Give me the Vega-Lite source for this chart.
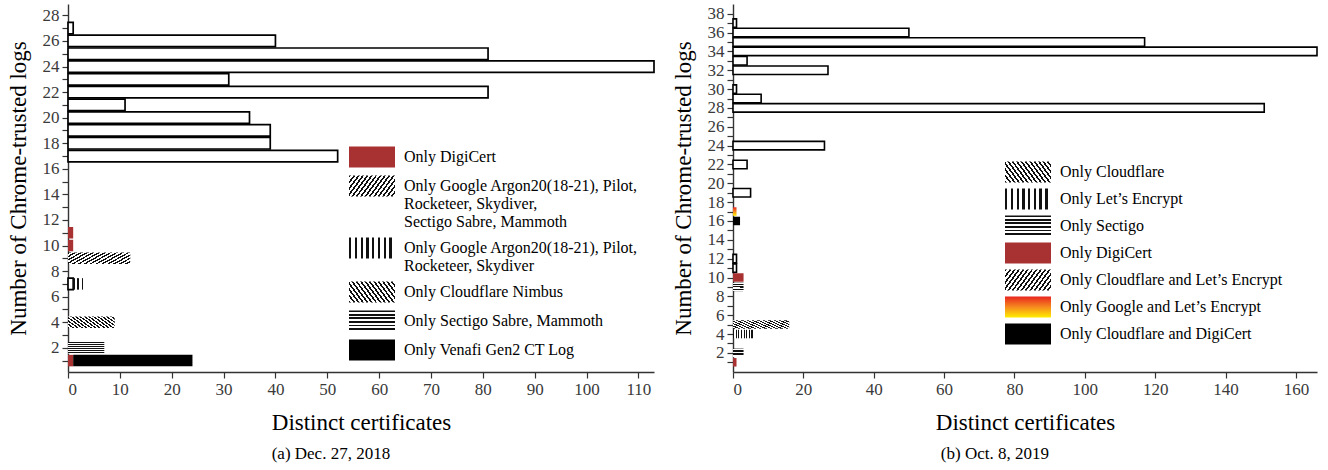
{
  "$schema": "https://vega.github.io/schema/vega-lite/v6.json",
  "padding": {"left": 7, "top": 4, "right": 5, "bottom": 5},
  "background": "white",
  "config": {
    "font": "Liberation Serif",
    "view": {"stroke": null},
    "concat": {"spacing": 17},
    "axis": {
      "labelFont": "Liberation Serif", "labelFontSize": 17, "labelColor": "#3a3a3a",
      "titleFont": "Liberation Serif", "titleFontSize": 23, "titleFontWeight": "normal", "titleColor": "#000",
      "domainColor": "#333", "tickColor": "#333", "domainWidth": 1.4, "tickWidth": 1.2, "tickSize": 6,
      "grid": false, "labelPadding": 3
    },
    "axisY": {"titlePadding": 12},
    "axisX": {"titlePadding": 14},
    "legend": {
      "orient": "none", "padding": 0, "title": null,
      "symbolType": "M-2,-0.92L2,-0.92L2,0.92L-2,0.92Z", "symbolSize": 529,
      "symbolStrokeWidth": 0, "symbolStrokeColor": "transparent", "symbolOpacity": 1,
      "labelFont": "Liberation Serif", "labelFontSize": 16, "labelColor": "#000",
      "labelLimit": 500, "labelOffset": 20.5
    },
    "title": {"font": "Liberation Serif", "fontSize": 17, "fontWeight": "normal", "color": "#000", "orient": "bottom", "frame": "bounds", "anchor": "middle", "offset": 12}
  },
  "resolve": {"scale": {"color": "independent"}, "legend": {"color": "independent"}},
  "hconcat": [
    {
      "width": 586, "height": 368,
      "title": {"text": "(a)  Dec. 27, 2018"},
      "data": {"values": [
        {"logs": 27, "certs": 1, "set": "All"},
        {"logs": 26, "certs": 40, "set": "All"},
        {"logs": 25, "certs": 81, "set": "All"},
        {"logs": 24, "certs": 113, "set": "All"},
        {"logs": 23, "certs": 31, "set": "All"},
        {"logs": 22, "certs": 81, "set": "All"},
        {"logs": 21, "certs": 11, "set": "All"},
        {"logs": 20, "certs": 35, "set": "All"},
        {"logs": 19, "certs": 39, "set": "All"},
        {"logs": 18, "certs": 39, "set": "All"},
        {"logs": 17, "certs": 52, "set": "All"},
        {"logs": 11, "certs": 1, "set": "Only DigiCert"},
        {"logs": 10, "certs": 1, "set": "Only DigiCert"},
        {"logs": 9, "certs": 12, "set": "Only Google Argon20(18-21), Pilot,\nRocketeer, Skydiver,\nSectigo Sabre, Mammoth"},
        {"logs": 7, "certs": 1, "set": "All"},
        {"logs": 7, "certs": 2, "set": "Only Google Argon20(18-21), Pilot,\nRocketeer, Skydiver"},
        {"logs": 4, "certs": 9, "set": "Only Cloudflare Nimbus"},
        {"logs": 2, "certs": 7, "set": "Only Sectigo Sabre, Mammoth"},
        {"logs": 1, "certs": 1, "set": "Only DigiCert"},
        {"logs": 1, "certs": 23, "set": "Only Venafi Gen2 CT Log"}
      ]},
      "mark": {"type": "bar", "orient": "horizontal", "size": 11.5, "stroke": "#000"},
      "encoding": {
        "y": {"field": "logs", "type": "quantitative",
          "scale": {"domain": [0.5, 28.5], "nice": false, "zero": false},
          "axis": {"values": [1,2,3,4,5,6,7,8,9,10,11,12,13,14,15,16,17,18,19,20,21,22,23,24,25,26,27,28],
                   "labelExpr": "datum.value % 2 == 0 ? datum.label : ''",
                   "title": "Number of Chrome-trusted logs"}},
        "x": {"field": "certs", "type": "quantitative", "stack": "zero",
          "scale": {"domain": [0, 113], "nice": false},
          "axis": {"values": [0,10,20,30,40,50,60,70,80,90,100,110], "title": "Distinct certificates"}},
        "order": {"field": "set", "sort": "ascending"},
        "strokeWidth": {"condition": {"test": "datum.set == 'All'", "value": 1.7}, "value": 0},
        "color": {"field": "set", "type": "nominal",
          "scale": {
            "domain": ["Only DigiCert",
              "Only Google Argon20(18-21), Pilot,\nRocketeer, Skydiver,\nSectigo Sabre, Mammoth",
              "Only Google Argon20(18-21), Pilot,\nRocketeer, Skydiver",
              "Only Cloudflare Nimbus",
              "Only Sectigo Sabre, Mammoth",
              "Only Venafi Gen2 CT Log",
              "All"],
            "range": [
              "#a83232",
              {"expr": "{gradient: 'linear', x1: 0, y1: 0, x2: 1.2, y2: 0.4, stops: [{offset: 0, color: '#111'}, {offset: 0.032, color: '#111'}, {offset: 0.032, color: '#fff'}, {offset: 0.0714, color: '#fff'}, {offset: 0.0714, color: '#111'}, {offset: 0.1035, color: '#111'}, {offset: 0.1035, color: '#fff'}, {offset: 0.1429, color: '#fff'}, {offset: 0.1429, color: '#111'}, {offset: 0.175, color: '#111'}, {offset: 0.175, color: '#fff'}, {offset: 0.2143, color: '#fff'}, {offset: 0.2143, color: '#111'}, {offset: 0.2464, color: '#111'}, {offset: 0.2464, color: '#fff'}, {offset: 0.2857, color: '#fff'}, {offset: 0.2857, color: '#111'}, {offset: 0.3178, color: '#111'}, {offset: 0.3178, color: '#fff'}, {offset: 0.3571, color: '#fff'}, {offset: 0.3571, color: '#111'}, {offset: 0.3892, color: '#111'}, {offset: 0.3892, color: '#fff'}, {offset: 0.4286, color: '#fff'}, {offset: 0.4286, color: '#111'}, {offset: 0.4607, color: '#111'}, {offset: 0.4607, color: '#fff'}, {offset: 0.5, color: '#fff'}, {offset: 0.5, color: '#111'}, {offset: 0.5321, color: '#111'}, {offset: 0.5321, color: '#fff'}, {offset: 0.5714, color: '#fff'}, {offset: 0.5714, color: '#111'}, {offset: 0.6035, color: '#111'}, {offset: 0.6035, color: '#fff'}, {offset: 0.6429, color: '#fff'}, {offset: 0.6429, color: '#111'}, {offset: 0.675, color: '#111'}, {offset: 0.675, color: '#fff'}, {offset: 0.7143, color: '#fff'}, {offset: 0.7143, color: '#111'}, {offset: 0.7464, color: '#111'}, {offset: 0.7464, color: '#fff'}, {offset: 0.7857, color: '#fff'}, {offset: 0.7857, color: '#111'}, {offset: 0.8178, color: '#111'}, {offset: 0.8178, color: '#fff'}, {offset: 0.8571, color: '#fff'}, {offset: 0.8571, color: '#111'}, {offset: 0.8892, color: '#111'}, {offset: 0.8892, color: '#fff'}, {offset: 0.9286, color: '#fff'}, {offset: 0.9286, color: '#111'}, {offset: 0.9607, color: '#111'}, {offset: 0.9607, color: '#fff'}, {offset: 1, color: '#fff'}]}"},
              {"expr": "{gradient: 'linear', x1: 0, y1: 0, x2: 1, y2: 0, stops: [{offset: 0, color: '#111'}, {offset: 0.05, color: '#111'}, {offset: 0.05, color: '#fff'}, {offset: 0.125, color: '#fff'}, {offset: 0.125, color: '#111'}, {offset: 0.175, color: '#111'}, {offset: 0.175, color: '#fff'}, {offset: 0.25, color: '#fff'}, {offset: 0.25, color: '#111'}, {offset: 0.3, color: '#111'}, {offset: 0.3, color: '#fff'}, {offset: 0.375, color: '#fff'}, {offset: 0.375, color: '#111'}, {offset: 0.425, color: '#111'}, {offset: 0.425, color: '#fff'}, {offset: 0.5, color: '#fff'}, {offset: 0.5, color: '#111'}, {offset: 0.55, color: '#111'}, {offset: 0.55, color: '#fff'}, {offset: 0.625, color: '#fff'}, {offset: 0.625, color: '#111'}, {offset: 0.675, color: '#111'}, {offset: 0.675, color: '#fff'}, {offset: 0.75, color: '#fff'}, {offset: 0.75, color: '#111'}, {offset: 0.8, color: '#111'}, {offset: 0.8, color: '#fff'}, {offset: 0.875, color: '#fff'}, {offset: 0.875, color: '#111'}, {offset: 0.925, color: '#111'}, {offset: 0.925, color: '#fff'}, {offset: 1, color: '#fff'}]}"},
              {"expr": "{gradient: 'linear', x1: 0, y1: 1, x2: 1.2, y2: 0.6, stops: [{offset: 0, color: '#111'}, {offset: 0.032, color: '#111'}, {offset: 0.032, color: '#fff'}, {offset: 0.0714, color: '#fff'}, {offset: 0.0714, color: '#111'}, {offset: 0.1035, color: '#111'}, {offset: 0.1035, color: '#fff'}, {offset: 0.1429, color: '#fff'}, {offset: 0.1429, color: '#111'}, {offset: 0.175, color: '#111'}, {offset: 0.175, color: '#fff'}, {offset: 0.2143, color: '#fff'}, {offset: 0.2143, color: '#111'}, {offset: 0.2464, color: '#111'}, {offset: 0.2464, color: '#fff'}, {offset: 0.2857, color: '#fff'}, {offset: 0.2857, color: '#111'}, {offset: 0.3178, color: '#111'}, {offset: 0.3178, color: '#fff'}, {offset: 0.3571, color: '#fff'}, {offset: 0.3571, color: '#111'}, {offset: 0.3892, color: '#111'}, {offset: 0.3892, color: '#fff'}, {offset: 0.4286, color: '#fff'}, {offset: 0.4286, color: '#111'}, {offset: 0.4607, color: '#111'}, {offset: 0.4607, color: '#fff'}, {offset: 0.5, color: '#fff'}, {offset: 0.5, color: '#111'}, {offset: 0.5321, color: '#111'}, {offset: 0.5321, color: '#fff'}, {offset: 0.5714, color: '#fff'}, {offset: 0.5714, color: '#111'}, {offset: 0.6035, color: '#111'}, {offset: 0.6035, color: '#fff'}, {offset: 0.6429, color: '#fff'}, {offset: 0.6429, color: '#111'}, {offset: 0.675, color: '#111'}, {offset: 0.675, color: '#fff'}, {offset: 0.7143, color: '#fff'}, {offset: 0.7143, color: '#111'}, {offset: 0.7464, color: '#111'}, {offset: 0.7464, color: '#fff'}, {offset: 0.7857, color: '#fff'}, {offset: 0.7857, color: '#111'}, {offset: 0.8178, color: '#111'}, {offset: 0.8178, color: '#fff'}, {offset: 0.8571, color: '#fff'}, {offset: 0.8571, color: '#111'}, {offset: 0.8892, color: '#111'}, {offset: 0.8892, color: '#fff'}, {offset: 0.9286, color: '#fff'}, {offset: 0.9286, color: '#111'}, {offset: 0.9607, color: '#111'}, {offset: 0.9607, color: '#fff'}, {offset: 1, color: '#fff'}]}"},
              {"expr": "{gradient: 'linear', x1: 0, y1: 0, x2: 0, y2: 1, stops: [{offset: 0, color: '#111'}, {offset: 0.08, color: '#111'}, {offset: 0.08, color: '#fff'}, {offset: 0.1667, color: '#fff'}, {offset: 0.1667, color: '#111'}, {offset: 0.2467, color: '#111'}, {offset: 0.2467, color: '#fff'}, {offset: 0.3333, color: '#fff'}, {offset: 0.3333, color: '#111'}, {offset: 0.4133, color: '#111'}, {offset: 0.4133, color: '#fff'}, {offset: 0.5, color: '#fff'}, {offset: 0.5, color: '#111'}, {offset: 0.58, color: '#111'}, {offset: 0.58, color: '#fff'}, {offset: 0.6667, color: '#fff'}, {offset: 0.6667, color: '#111'}, {offset: 0.7467, color: '#111'}, {offset: 0.7467, color: '#fff'}, {offset: 0.8333, color: '#fff'}, {offset: 0.8333, color: '#111'}, {offset: 0.9133, color: '#111'}, {offset: 0.9133, color: '#fff'}, {offset: 1, color: '#fff'}]}"},
              "#000000",
              "#ffffff"
            ]},
          "legend": {"legendX": 292.5, "legendY": 141.5, "rowPadding": 6,
            "labelExpr": "split(datum.label, '\\n')",
            "values": ["Only DigiCert",
              "Only Google Argon20(18-21), Pilot,\nRocketeer, Skydiver,\nSectigo Sabre, Mammoth",
              "Only Google Argon20(18-21), Pilot,\nRocketeer, Skydiver",
              "Only Cloudflare Nimbus",
              "Only Sectigo Sabre, Mammoth",
              "Only Venafi Gen2 CT Log"]}}
      }
    },
    {
      "width": 584, "height": 368,
      "title": {"text": "(b)  Oct. 8, 2019"},
      "data": {"values": [
        {"logs": 37, "certs": 1, "set": "All"},
        {"logs": 36, "certs": 50, "set": "All"},
        {"logs": 35, "certs": 117, "set": "All"},
        {"logs": 34, "certs": 166, "set": "All"},
        {"logs": 33, "certs": 4, "set": "All"},
        {"logs": 32, "certs": 27, "set": "All"},
        {"logs": 30, "certs": 1, "set": "All"},
        {"logs": 29, "certs": 8, "set": "All"},
        {"logs": 28, "certs": 151, "set": "All"},
        {"logs": 24, "certs": 26, "set": "All"},
        {"logs": 22, "certs": 4, "set": "All"},
        {"logs": 19, "certs": 5, "set": "All"},
        {"logs": 17, "certs": 1, "set": "Only Google and Let’s Encrypt"},
        {"logs": 16, "certs": 2, "set": "Only Cloudflare and DigiCert"},
        {"logs": 12, "certs": 1, "set": "All"},
        {"logs": 11, "certs": 1, "set": "All"},
        {"logs": 10, "certs": 3, "set": "Only DigiCert"},
        {"logs": 9, "certs": 3, "set": "Only Cloudflare and Let’s Encrypt"},
        {"logs": 5, "certs": 16, "set": "Only Cloudflare"},
        {"logs": 4, "certs": 6, "set": "Only Let’s Encrypt"},
        {"logs": 2, "certs": 3, "set": "Only Sectigo"},
        {"logs": 1, "certs": 1, "set": "Only DigiCert"}
      ]},
      "mark": {"type": "bar", "orient": "horizontal", "size": 8.5, "stroke": "#000"},
      "encoding": {
        "y": {"field": "logs", "type": "quantitative",
          "scale": {"domain": [0.5, 38.5], "nice": false, "zero": false},
          "axis": {"values": [1,2,3,4,5,6,7,8,9,10,11,12,13,14,15,16,17,18,19,20,21,22,23,24,25,26,27,28,29,30,31,32,33,34,35,36,37,38],
                   "labelExpr": "datum.value % 2 == 0 ? datum.label : ''",
                   "title": "Number of Chrome-trusted logs"}},
        "x": {"field": "certs", "type": "quantitative", "stack": "zero",
          "scale": {"domain": [0, 166], "nice": false},
          "axis": {"values": [0,20,40,60,80,100,120,140,160], "title": "Distinct certificates"}},
        "order": {"field": "set", "sort": "ascending"},
        "strokeWidth": {"condition": {"test": "datum.set == 'All'", "value": 1.6}, "value": 0},
        "color": {"field": "set", "type": "nominal",
          "scale": {
            "domain": ["Only Cloudflare", "Only Let’s Encrypt", "Only Sectigo", "Only DigiCert",
              "Only Cloudflare and Let’s Encrypt", "Only Google and Let’s Encrypt", "Only Cloudflare and DigiCert", "All"],
            "range": [
              {"expr": "{gradient: 'linear', x1: 0, y1: 1, x2: 1.2, y2: 0.6, stops: [{offset: 0, color: '#111'}, {offset: 0.032, color: '#111'}, {offset: 0.032, color: '#fff'}, {offset: 0.0714, color: '#fff'}, {offset: 0.0714, color: '#111'}, {offset: 0.1035, color: '#111'}, {offset: 0.1035, color: '#fff'}, {offset: 0.1429, color: '#fff'}, {offset: 0.1429, color: '#111'}, {offset: 0.175, color: '#111'}, {offset: 0.175, color: '#fff'}, {offset: 0.2143, color: '#fff'}, {offset: 0.2143, color: '#111'}, {offset: 0.2464, color: '#111'}, {offset: 0.2464, color: '#fff'}, {offset: 0.2857, color: '#fff'}, {offset: 0.2857, color: '#111'}, {offset: 0.3178, color: '#111'}, {offset: 0.3178, color: '#fff'}, {offset: 0.3571, color: '#fff'}, {offset: 0.3571, color: '#111'}, {offset: 0.3892, color: '#111'}, {offset: 0.3892, color: '#fff'}, {offset: 0.4286, color: '#fff'}, {offset: 0.4286, color: '#111'}, {offset: 0.4607, color: '#111'}, {offset: 0.4607, color: '#fff'}, {offset: 0.5, color: '#fff'}, {offset: 0.5, color: '#111'}, {offset: 0.5321, color: '#111'}, {offset: 0.5321, color: '#fff'}, {offset: 0.5714, color: '#fff'}, {offset: 0.5714, color: '#111'}, {offset: 0.6035, color: '#111'}, {offset: 0.6035, color: '#fff'}, {offset: 0.6429, color: '#fff'}, {offset: 0.6429, color: '#111'}, {offset: 0.675, color: '#111'}, {offset: 0.675, color: '#fff'}, {offset: 0.7143, color: '#fff'}, {offset: 0.7143, color: '#111'}, {offset: 0.7464, color: '#111'}, {offset: 0.7464, color: '#fff'}, {offset: 0.7857, color: '#fff'}, {offset: 0.7857, color: '#111'}, {offset: 0.8178, color: '#111'}, {offset: 0.8178, color: '#fff'}, {offset: 0.8571, color: '#fff'}, {offset: 0.8571, color: '#111'}, {offset: 0.8892, color: '#111'}, {offset: 0.8892, color: '#fff'}, {offset: 0.9286, color: '#fff'}, {offset: 0.9286, color: '#111'}, {offset: 0.9607, color: '#111'}, {offset: 0.9607, color: '#fff'}, {offset: 1, color: '#fff'}]}"},
              {"expr": "{gradient: 'linear', x1: 0, y1: 0, x2: 1, y2: 0, stops: [{offset: 0, color: '#111'}, {offset: 0.05, color: '#111'}, {offset: 0.05, color: '#fff'}, {offset: 0.125, color: '#fff'}, {offset: 0.125, color: '#111'}, {offset: 0.175, color: '#111'}, {offset: 0.175, color: '#fff'}, {offset: 0.25, color: '#fff'}, {offset: 0.25, color: '#111'}, {offset: 0.3, color: '#111'}, {offset: 0.3, color: '#fff'}, {offset: 0.375, color: '#fff'}, {offset: 0.375, color: '#111'}, {offset: 0.425, color: '#111'}, {offset: 0.425, color: '#fff'}, {offset: 0.5, color: '#fff'}, {offset: 0.5, color: '#111'}, {offset: 0.55, color: '#111'}, {offset: 0.55, color: '#fff'}, {offset: 0.625, color: '#fff'}, {offset: 0.625, color: '#111'}, {offset: 0.675, color: '#111'}, {offset: 0.675, color: '#fff'}, {offset: 0.75, color: '#fff'}, {offset: 0.75, color: '#111'}, {offset: 0.8, color: '#111'}, {offset: 0.8, color: '#fff'}, {offset: 0.875, color: '#fff'}, {offset: 0.875, color: '#111'}, {offset: 0.925, color: '#111'}, {offset: 0.925, color: '#fff'}, {offset: 1, color: '#fff'}]}"},
              {"expr": "{gradient: 'linear', x1: 0, y1: 0, x2: 0, y2: 1, stops: [{offset: 0, color: '#111'}, {offset: 0.08, color: '#111'}, {offset: 0.08, color: '#fff'}, {offset: 0.1667, color: '#fff'}, {offset: 0.1667, color: '#111'}, {offset: 0.2467, color: '#111'}, {offset: 0.2467, color: '#fff'}, {offset: 0.3333, color: '#fff'}, {offset: 0.3333, color: '#111'}, {offset: 0.4133, color: '#111'}, {offset: 0.4133, color: '#fff'}, {offset: 0.5, color: '#fff'}, {offset: 0.5, color: '#111'}, {offset: 0.58, color: '#111'}, {offset: 0.58, color: '#fff'}, {offset: 0.6667, color: '#fff'}, {offset: 0.6667, color: '#111'}, {offset: 0.7467, color: '#111'}, {offset: 0.7467, color: '#fff'}, {offset: 0.8333, color: '#fff'}, {offset: 0.8333, color: '#111'}, {offset: 0.9133, color: '#111'}, {offset: 0.9133, color: '#fff'}, {offset: 1, color: '#fff'}]}"},
              "#a83232",
              {"expr": "{gradient: 'linear', x1: 0, y1: 0, x2: 1.2, y2: 0.4, stops: [{offset: 0, color: '#111'}, {offset: 0.032, color: '#111'}, {offset: 0.032, color: '#fff'}, {offset: 0.0714, color: '#fff'}, {offset: 0.0714, color: '#111'}, {offset: 0.1035, color: '#111'}, {offset: 0.1035, color: '#fff'}, {offset: 0.1429, color: '#fff'}, {offset: 0.1429, color: '#111'}, {offset: 0.175, color: '#111'}, {offset: 0.175, color: '#fff'}, {offset: 0.2143, color: '#fff'}, {offset: 0.2143, color: '#111'}, {offset: 0.2464, color: '#111'}, {offset: 0.2464, color: '#fff'}, {offset: 0.2857, color: '#fff'}, {offset: 0.2857, color: '#111'}, {offset: 0.3178, color: '#111'}, {offset: 0.3178, color: '#fff'}, {offset: 0.3571, color: '#fff'}, {offset: 0.3571, color: '#111'}, {offset: 0.3892, color: '#111'}, {offset: 0.3892, color: '#fff'}, {offset: 0.4286, color: '#fff'}, {offset: 0.4286, color: '#111'}, {offset: 0.4607, color: '#111'}, {offset: 0.4607, color: '#fff'}, {offset: 0.5, color: '#fff'}, {offset: 0.5, color: '#111'}, {offset: 0.5321, color: '#111'}, {offset: 0.5321, color: '#fff'}, {offset: 0.5714, color: '#fff'}, {offset: 0.5714, color: '#111'}, {offset: 0.6035, color: '#111'}, {offset: 0.6035, color: '#fff'}, {offset: 0.6429, color: '#fff'}, {offset: 0.6429, color: '#111'}, {offset: 0.675, color: '#111'}, {offset: 0.675, color: '#fff'}, {offset: 0.7143, color: '#fff'}, {offset: 0.7143, color: '#111'}, {offset: 0.7464, color: '#111'}, {offset: 0.7464, color: '#fff'}, {offset: 0.7857, color: '#fff'}, {offset: 0.7857, color: '#111'}, {offset: 0.8178, color: '#111'}, {offset: 0.8178, color: '#fff'}, {offset: 0.8571, color: '#fff'}, {offset: 0.8571, color: '#111'}, {offset: 0.8892, color: '#111'}, {offset: 0.8892, color: '#fff'}, {offset: 0.9286, color: '#fff'}, {offset: 0.9286, color: '#111'}, {offset: 0.9607, color: '#111'}, {offset: 0.9607, color: '#fff'}, {offset: 1, color: '#fff'}]}"},
              {"expr": "{gradient: 'linear', x1: 0, y1: 0, x2: 0, y2: 1, stops: [{offset: 0, color: '#e8241f'}, {offset: 0.5, color: '#f68a1f'}, {offset: 1, color: '#ffee00'}]}"},
              "#000000",
              "#ffffff"
            ]},
          "legend": {"legendX": 283.5, "legendY": 156.5, "rowPadding": 4,
            "values": ["Only Cloudflare", "Only Let’s Encrypt", "Only Sectigo", "Only DigiCert",
              "Only Cloudflare and Let’s Encrypt", "Only Google and Let’s Encrypt", "Only Cloudflare and DigiCert"]}}
      }
    }
  ]
}
